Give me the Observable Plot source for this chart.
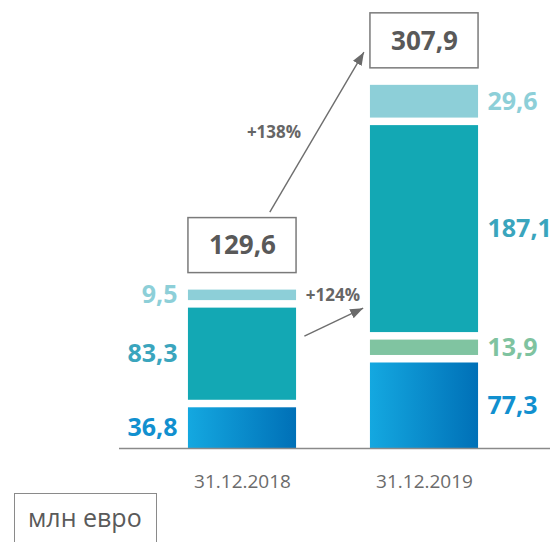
<!DOCTYPE html>
<html>
<head>
<meta charset="utf-8">
<script src="https://cdn.jsdelivr.net/npm/d3@7"></script>
<script src="https://cdn.jsdelivr.net/npm/@observablehq/plot@0.6"></script>
<style>
  html, body { margin: 0; padding: 0; background: #fff; overflow: hidden; }
  #wrap { position: relative; width: 553px; height: 542px; }
  #unit {
    position: absolute; left: 14px; top: 493px; width: 143px; height: 80px;
    box-sizing: border-box; border: 1px solid #8a8a8a; background: #fff;
    font-family: "Open Sans", sans-serif; font-size: 25px; color: #5a5a5a;
    padding: 6px 0 0 13px; line-height: 34px;
  }
</style>
</head>
<body>
<div id="wrap"><div id="unit">млн евро</div></div>
<script>
// ---- data ----
const dates = ["31.12.2018", "31.12.2019"];
const components = ["Компонент 1", "Компонент 2", "Компонент 3", "Компонент 4"];
const values2018 = [36.8, 0, 83.3, 9.5];
const values2019 = [77.3, 13.9, 187.1, 29.6];
const totals = [129.6, 307.9];
const growthLabels = ["+138%", "+124%"];

// ---- styles ----
const fills = ["url(#blueGrad)", "#80c4a1", "#13a8b4", "#8dcfd8"];
const labelColors = ["#1190cf", "#7fc3a0", "#3aa5bd", "#8dcfd8"];
const GAP = 6.8;       // white gap between stacked pieces (value units)
const HALF = 0.297;    // half bar width (x units)
const fmt = v => v.toFixed(1).replace(".", ",");

// ---- derived table ----
const segs = [];
const tops = [];
[values2018, values2019].forEach((vals, i) => {
  let y = 0, top = 0;
  vals.forEach((v, k) => {
    if (!v) return;
    segs.push({i, k, component: components[k], v, y1: y, y2: y + v});
    top = y + v;
    y += v + GAP;
  });
  tops.push({i, top, total: totals[i]});
});

// annotation arrows (data coordinates)
const arrows = [
  {x1: 0.15, y1: 213.6, x2: 0.667, y2: 358.3},
  {x1: 0.34, y1: 101.5, x2: 0.663, y2: 126.9}
];
const growth = [
  {x: 0.173, y: 285.2, text: growthLabels[0]},
  {x: 0.497, y: 138.3, text: growthLabels[1]}
];

const defsMark = () => {
  const defs = d3.create("svg:defs");
  const g = defs.append("linearGradient").attr("id", "blueGrad")
    .attr("x1", 0).attr("x2", 1).attr("y1", 0).attr("y2", 0);
  g.append("stop").attr("offset", "0%").attr("stop-color", "#14a8e0");
  g.append("stop").attr("offset", "100%").attr("stop-color", "#0070b7");
  const m = defs.append("marker").attr("id", "tri")
    .attr("viewBox", "-13 -6 14 12").attr("markerWidth", 14).attr("markerHeight", 12)
    .attr("markerUnits", "userSpaceOnUse").attr("orient", "auto")
    .attr("refX", 0).attr("refY", 0);
  m.append("path").attr("d", "M0,0L-13,-5L-13,5Z").attr("fill", "#6a6a6a");
  return defs.node();
};

const segMarks = fills.map((f, k) => Plot.rect(segs.filter(d => d.k === k), {
  x1: d => d.i - HALF, x2: d => d.i + HALF, y1: "y1", y2: "y2", fill: f
}));

const chart = Plot.plot({
  width: 553, height: 542,
  marginLeft: 119, marginRight: 3, marginTop: 0, marginBottom: 94,
  style: {fontFamily: "Open Sans, sans-serif", background: "white"},
  x: {domain: [0, 1], range: [242, 424], axis: null},
  y: {domain: [0, 405], axis: null},
  marks: [
    defsMark,
    ...segMarks,
    Plot.ruleY([0], {stroke: "#8a8a8a", strokeWidth: 1.5}),
    Plot.rect(tops, {
      x1: d => d.i - HALF, x2: d => d.i + HALF, y1: "top", y2: "top",
      insetTop: -72, insetBottom: 17, fill: "white", stroke: "#7a7a7a", strokeWidth: 1.5
    }),
    Plot.text(tops, {x: "i", y: "top", dy: -44, text: d => fmt(d.total),
      fontSize: 26, fontWeight: 700, fill: "#595959"}),
    Plot.text(segs.filter(d => d.i === 0), {
      x: "i", y: d => (d.y1 + d.y2) / 2, dx: -65, textAnchor: "end",
      text: d => fmt(d.v), fill: d => labelColors[d.k], fontSize: 25, fontWeight: 700
    }),
    Plot.text(segs.filter(d => d.i === 1), {
      x: "i", y: d => (d.y1 + d.y2) / 2, dx: 63, textAnchor: "start",
      text: d => fmt(d.v), fill: d => labelColors[d.k], fontSize: 25, fontWeight: 700
    }),
    Plot.text(dates, {x: (d, i) => i, y: 0, dy: 33, text: d => d,
      fontSize: 19, fill: "#6b6b6b"}),
    Plot.link(arrows, {x1: "x1", y1: "y1", x2: "x2", y2: "y2",
      stroke: "#6e6e6e", strokeWidth: 1.4}),
    Plot.text(growth, {x: "x", y: "y", text: "text",
      fontSize: 17, fontWeight: 700, fill: "#666"})
  ]
});
chart.querySelectorAll('g[aria-label="link"] path').forEach(p => p.setAttribute("marker-end", "url(#tri)"));
document.getElementById("wrap").prepend(chart);
</script>
</body>
</html>
